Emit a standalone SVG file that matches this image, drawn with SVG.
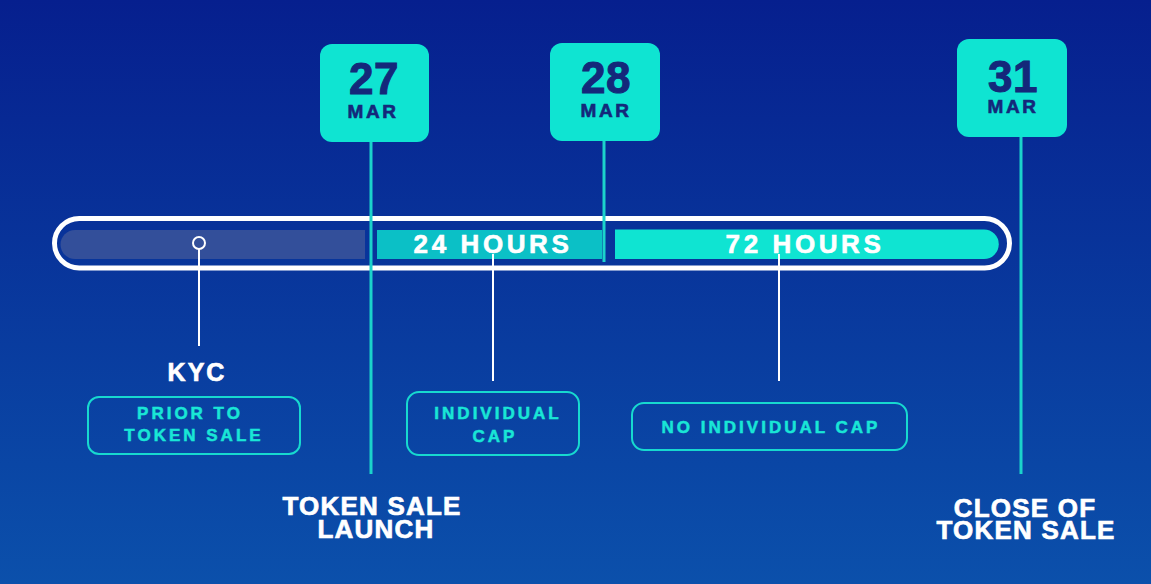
<svg xmlns="http://www.w3.org/2000/svg" width="1151" height="584" viewBox="0 0 1151 584">
<defs>
<linearGradient id="bg" x1="0" y1="0" x2="0" y2="1">
<stop offset="0" stop-color="#061f8e"/>
<stop offset="1" stop-color="#0b50ab"/>
</linearGradient>
<style>
.date{fill:#0fe4d2}
.num{font-family:"Liberation Sans",Arial,sans-serif;font-weight:bold;font-size:44px;fill:#14287a;stroke:#14287a;stroke-width:1px;text-anchor:middle;letter-spacing:0.5px}
.mon{font-family:"Liberation Sans",Arial,sans-serif;font-weight:bold;font-size:19px;fill:#14287a;stroke:#14287a;stroke-width:0.6px;text-anchor:middle;letter-spacing:2.5px}
.tl{stroke:#1bd3cb;stroke-width:3;fill:none}
.wl{stroke:#ffffff;stroke-width:2;fill:none}
.hrs{font-family:"Liberation Sans",Arial,sans-serif;font-weight:bold;font-size:26px;fill:#ffffff;stroke:#ffffff;stroke-width:0.6px;text-anchor:middle;letter-spacing:3.6px}
.pill{fill:none;stroke:#17d9cf;stroke-width:2}
.pt{font-family:"Liberation Sans",Arial,sans-serif;font-weight:bold;font-size:17px;fill:#19e6d6;stroke:#19e6d6;stroke-width:0.5px;text-anchor:middle;letter-spacing:3px}
.big{font-family:"Liberation Sans",Arial,sans-serif;font-weight:bold;font-size:26px;fill:#ffffff;stroke:#ffffff;stroke-width:0.7px;text-anchor:middle;letter-spacing:1.2px}
</style>
</defs>
<rect width="1151" height="584" fill="url(#bg)"/>

<g id="timeline-bar">
<rect x="54.5" y="218.5" width="955" height="49.5" rx="24.75" fill="none" stroke="#ffffff" stroke-width="5"/>
<path d="M75,230 H365 V259 H75 A14.5,14.5 0 0 1 75,230 Z" fill="#334f9a"/>
<rect x="377" y="230" width="225" height="29" fill="#0bc0c6"/>
<path d="M615,229.5 H984 A14.75,14.75 0 0 1 984,259 H615 Z" fill="#0fe4d2"/>
</g>

<g id="connectors">
<line class="tl" x1="371" y1="141" x2="371" y2="474"/>
<line class="tl" x1="604" y1="140" x2="604" y2="262"/>
<line class="tl" x1="1021" y1="136" x2="1021" y2="474"/>
<line class="wl" x1="199" y1="249" x2="199" y2="346"/>
<line class="wl" x1="493" y1="254" x2="493" y2="381"/>
<line class="wl" x1="779" y1="254" x2="779" y2="381"/>
<circle cx="199" cy="243" r="6" fill="#334f9a" stroke="#ffffff" stroke-width="2"/>
</g>

<g id="seg-24">
<text class="hrs" x="493" y="253">24 HOURS</text>
</g>
<g id="seg-72">
<text class="hrs" x="805" y="253">72 HOURS</text>
</g>

<g id="date-27">
<rect class="date" x="320" y="44" width="109" height="98" rx="12"/>
<text class="num" x="374" y="94">27</text>
<text class="mon" x="373" y="118">MAR</text>
</g>
<g id="date-28">
<rect class="date" x="550" y="43" width="110" height="98" rx="12"/>
<text class="num" x="606" y="93">28</text>
<text class="mon" x="606" y="117">MAR</text>
</g>
<g id="date-31">
<rect class="date" x="957" y="39" width="110" height="98" rx="12"/>
<text class="num" x="1013" y="92">31</text>
<text class="mon" x="1013" y="113">MAR</text>
</g>

<g id="kyc">
<text class="big" x="197" y="381" style="font-size:25px;letter-spacing:2px">KYC</text>
<rect class="pill" x="88" y="397" width="212" height="57" rx="11"/>
<text class="pt" x="190" y="419">PRIOR TO</text>
<text class="pt" x="194" y="441">TOKEN SALE</text>
</g>

<g id="individual-cap">
<rect class="pill" x="407" y="392" width="172" height="63" rx="12"/>
<text class="pt" x="498" y="419">INDIVIDUAL</text>
<text class="pt" x="495" y="442">CAP</text>
</g>

<g id="no-individual-cap">
<rect class="pill" x="632" y="403" width="275" height="47" rx="12"/>
<text class="pt" x="771" y="433">NO INDIVIDUAL CAP</text>
</g>

<g id="launch">
<text class="big" x="372" y="515">TOKEN SALE</text>
<text class="big" x="376" y="538">LAUNCH</text>
</g>

<g id="close">
<text class="big" x="1025" y="517">CLOSE OF</text>
<text class="big" x="1026" y="539">TOKEN SALE</text>
</g>
</svg>
